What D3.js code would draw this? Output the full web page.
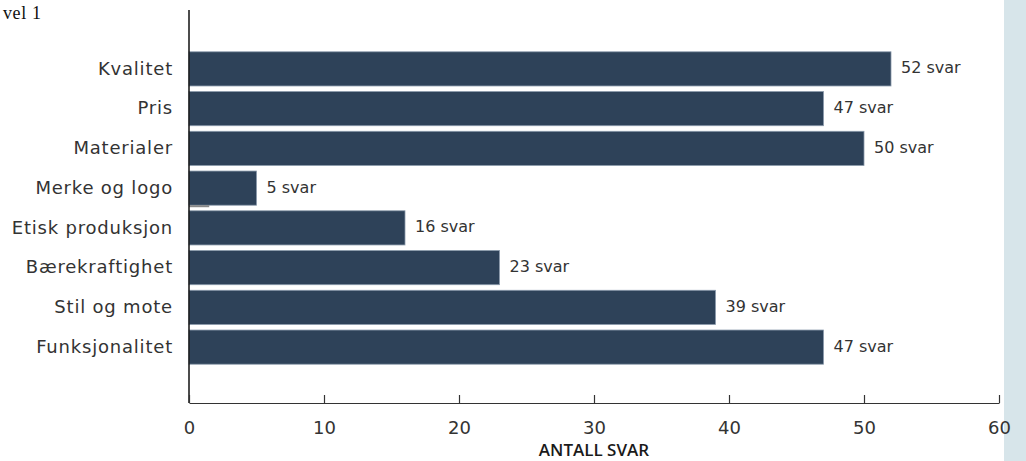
<!DOCTYPE html>
<html>
<head>
<meta charset="utf-8">
<script src="https://cdn.jsdelivr.net/npm/d3@7"></script>
<style>
  body { margin: 0; background: #fff; }
  svg text { font-family: "DejaVu Sans", sans-serif; }
</style>
</head>
<body>
<div id="chart"></div>
<script>
var categories = ["Kvalitet", "Pris", "Materialer", "Merke og logo",
                  "Etisk produksjon", "Bærekraftighet", "Stil og mote", "Funksjonalitet"];
var answers = [52, 47, 50, 5, 16, 23, 39, 47];
var ticks = [0, 10, 20, 30, 40, 50, 60];

var width = 1026;
var height = 461;
var labelFont = "DejaVu Sans, sans-serif";

var svg = d3.select("#chart")
    .append("svg")
    .attr("width", width)
    .attr("height", height);

// light panel on the right edge
svg.append("rect")
    .attr("x", 1004)
    .attr("y", 0)
    .attr("width", width - 1004)
    .attr("height", height)
    .attr("fill", "#d7e5ea");

// heading left over from the page above
svg.append("text")
    .attr("x", 3)
    .attr("y", 19)
    .style("font-family", "Liberation Serif, serif")
    .attr("font-size", 18)
    .attr("letter-spacing", 0.6)
    .attr("fill", "#111")
    .text("vel 1");

var x = d3.scaleLinear().domain([0, 60]).range([189, 999]);
var y = d3.scaleBand().domain(categories).range([51, 365]).paddingInner(0.14).paddingOuter(0.02);

var data = categories.map(function(c, i) { return {name: c, value: answers[i]}; });

var bars = svg.selectAll("g.bar").data(data).enter().append("g").attr("class", "bar");

bars.append("rect")
    .attr("x", x(0))
    .attr("y", function(d) { return y(d.name); })
    .attr("width", function(d) { return x(d.value) - x(0); })
    .attr("height", y.bandwidth())
    .attr("fill", "#2e4259")
    .attr("stroke", "#8a9aab")
    .attr("stroke-width", 0.8);

bars.append("text")
    .attr("x", function(d) { return x(d.value) + 10; })
    .attr("y", function(d) { return y(d.name) + y.bandwidth() / 2; })
    .attr("dominant-baseline", "middle")
    .attr("font-size", 16)
    .attr("fill", "#333")
    .style("font-family", labelFont)
    .text(function(d) { return d.value + " svar"; });

// small grey stub under the "Merke og logo" bar
svg.append("line")
    .attr("x1", x(0)).attr("x2", x(1.5))
    .attr("y1", y("Merke og logo") + y.bandwidth() + 1)
    .attr("y2", y("Merke og logo") + y.bandwidth() + 1)
    .attr("stroke", "#888")
    .attr("stroke-width", 2);

// category labels
svg.append("g")
    .attr("transform", "translate(189,0)")
    .call(d3.axisLeft(y).tickSize(0).tickPadding(16))
    .call(function(g) {
        g.select(".domain").remove();
        g.selectAll("text")
            .attr("font-size", 18)
            .attr("letter-spacing", 0.8)
            .attr("fill", "#333")
            .style("font-family", labelFont);
    });

// y axis line
svg.append("line")
    .attr("x1", 189).attr("x2", 189)
    .attr("y1", 10).attr("y2", 403)
    .attr("stroke", "#111")
    .attr("stroke-width", 1.5);

// x axis with inward ticks
var xAxis = svg.append("g")
    .attr("transform", "translate(0,403)")
    .call(d3.axisBottom(x).tickValues(ticks).tickSize(-8).tickSizeOuter(0).tickPadding(18));

xAxis.select(".domain").attr("stroke", "#333").attr("stroke-width", 1.2);
xAxis.selectAll(".tick line").attr("stroke", "#333").attr("stroke-width", 1.2);
xAxis.selectAll("text")
    .attr("font-size", 18)
    .attr("fill", "#333")
    .style("font-family", labelFont);

svg.append("text")
    .attr("x", x(30))
    .attr("y", 456)
    .attr("text-anchor", "middle")
    .attr("font-size", 17)
    .attr("font-weight", 600)
    .attr("fill", "#1a1a1a")
    .style("font-family", "Open Sans, sans-serif")
    .text("ANTALL SVAR");
</script>
</body>
</html>
